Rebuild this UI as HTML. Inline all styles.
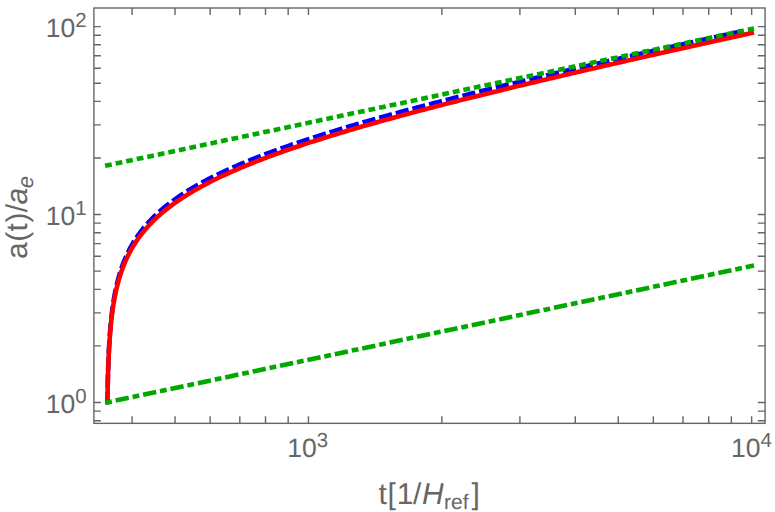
<!DOCTYPE html>
<html><head><meta charset="utf-8"><title>plot</title>
<style>html,body{margin:0;padding:0;background:#fff;}body{width:775px;height:512px;position:relative;overflow:hidden;font-family:"Liberation Sans",sans-serif;}</style></head>
<body>
<svg width="775" height="512" viewBox="0 0 775 512" style="position:absolute;left:0;top:0">
<rect x="0" y="0" width="775" height="512" fill="#fff"/>
<path d="M107.42,402.30 L107.42,402.29 L107.42,402.25 L107.42,402.14 L107.42,401.93 L107.43,401.59 L107.44,401.07 L107.45,400.37 L107.46,399.45 L107.48,398.30 L107.50,396.90 L107.53,395.26 L107.56,393.37 L107.60,391.25 L107.65,388.90 L107.70,386.34 L107.76,383.60 L107.82,380.70 L107.90,377.66 L107.98,374.51 L108.08,371.27 L108.18,367.96 L108.29,364.60 L108.42,361.21 L108.55,357.81 L108.70,354.40 L108.86,351.00 L109.03,347.61 L109.22,344.26 L109.42,340.93 L109.63,337.64 L109.86,334.39 L110.10,331.19 L110.36,328.03 L110.63,324.93 L110.92,321.87 L111.22,318.86 L111.55,315.90 L111.89,313.00 L112.24,310.14 L112.62,307.33 L113.01,304.58 L113.43,301.87 L113.86,299.21 L114.31,296.59 L114.78,294.02 L115.27,291.50 L115.78,289.02 L116.32,286.58 L116.87,284.19 L117.45,281.84 L118.04,279.52 L118.66,277.24 L119.30,275.00 L119.97,272.80 L120.65,270.64 L121.36,268.50 L122.10,266.40 L122.85,264.34 L123.63,262.31 L124.43,260.30 L125.26,258.33 L126.11,256.39 L126.98,254.47 L127.88,252.59 L128.80,250.73 L129.75,248.89 L130.72,247.09 L131.71,245.31 L132.73,243.55 L133.78,241.81 L134.84,240.10 L135.94,238.42 L137.05,236.75 L138.19,235.11 L139.36,233.49 L140.55,231.88 L141.76,230.30 L143.00,228.74 L144.26,227.20 L145.54,225.67 L146.85,224.17 L148.19,222.68 L149.54,221.21 L150.92,219.75 L152.32,218.32 L153.75,216.90 L155.20,215.49 L156.67,214.10 L158.16,212.73 L159.67,211.37 L161.21,210.02 L162.77,208.70 L164.35,207.38 L165.95,206.08 L167.57,204.79 L169.21,203.51 L170.87,202.25 L172.55,201.00 L174.25,199.77 L175.98,198.54 L177.72,197.33 L179.47,196.13 L181.25,194.94 L183.05,193.76 L184.86,192.59 L186.69,191.44 L188.54,190.29 L190.40,189.16 L192.28,188.03 L194.18,186.92 L196.09,185.81 L198.02,184.72 L199.97,183.63 L201.92,182.56 L203.90,181.49 L205.88,180.43 L207.88,179.39 L209.90,178.35 L211.92,177.32 L213.96,176.29 L216.02,175.28 L218.08,174.28 L220.16,173.28 L222.24,172.29 L224.34,171.31 L226.45,170.33 L228.57,169.37 L230.70,168.41 L232.84,167.46 L234.98,166.52 L237.14,165.58 L239.31,164.65 L241.48,163.73 L243.66,162.81 L245.86,161.90 L248.05,161.00 L250.26,160.11 L252.47,159.22 L254.69,158.33 L256.91,157.46 L259.14,156.59 L261.38,155.72 L263.62,154.87 L265.87,154.01 L268.12,153.17 L270.38,152.33 L272.64,151.49 L274.91,150.66 L277.18,149.84 L279.45,149.02 L281.73,148.21 L284.01,147.40 L286.29,146.60 L288.58,145.80 L290.87,145.01 L293.16,144.23 L295.45,143.44 L297.75,142.67 L300.04,141.90 L302.34,141.13 L304.64,140.37 L306.94,139.61 L309.24,138.86 L311.54,138.11 L313.85,137.37 L316.15,136.63 L318.45,135.89 L320.76,135.16 L323.06,134.44 L325.36,133.71 L327.66,133.00 L329.97,132.28 L332.27,131.58 L334.57,130.87 L336.87,130.17 L339.16,129.47 L341.46,128.78 L343.76,128.09 L346.05,127.40 L348.34,126.72 L350.63,126.05 L352.92,125.37 L355.21,124.70 L357.49,124.03 L359.77,123.37 L362.05,122.71 L364.33,122.06 L366.60,121.40 L368.88,120.75 L371.15,120.11 L373.41,119.47 L375.68,118.83 L377.94,118.19 L380.19,117.56 L382.45,116.93 L384.70,116.31 L386.95,115.68 L389.19,115.06 L391.43,114.45 L393.67,113.83 L395.90,113.22 L398.13,112.62 L400.36,112.01 L402.58,111.41 L404.80,110.81 L407.01,110.22 L409.23,109.63 L411.43,109.04 L413.64,108.45 L415.83,107.86 L418.03,107.28 L420.22,106.71 L422.41,106.13 L424.59,105.56 L426.77,104.99 L428.94,104.42 L431.11,103.85 L433.27,103.29 L435.43,102.73 L437.59,102.17 L439.74,101.62 L441.89,101.07 L444.03,100.52 L446.17,99.97 L448.30,99.42 L450.43,98.88 L452.55,98.34 L454.67,97.80 L456.78,97.27 L458.89,96.74 L461.00,96.20 L463.10,95.68 L465.19,95.15 L467.28,94.63 L469.37,94.10 L471.45,93.58 L473.53,93.07 L475.60,92.55 L477.66,92.04 L479.73,91.53 L481.78,91.02 L483.83,90.51 L485.88,90.01 L487.92,89.51 L489.96,89.01 L491.99,88.51 L494.02,88.01 L496.04,87.52 L498.06,87.02 L500.07,86.53 L502.08,86.05 L504.09,85.56 L506.08,85.07 L508.08,84.59 L510.06,84.11 L512.05,83.63 L514.03,83.16 L516.00,82.68 L517.97,82.21 L519.93,81.74 L521.89,81.27 L523.85,80.80 L525.79,80.33 L527.74,79.87 L529.68,79.40 L531.61,78.94 L533.54,78.49 L535.47,78.03 L537.39,77.57 L539.30,77.12 L541.21,76.67 L543.12,76.22 L545.02,75.77 L546.92,75.32 L548.81,74.87 L550.69,74.43 L552.57,73.99 L554.45,73.55 L556.32,73.11 L558.19,72.67 L560.05,72.23 L561.91,71.80 L563.76,71.36 L565.61,70.93 L567.46,70.50 L569.30,70.07 L571.13,69.65 L572.96,69.22 L574.79,68.80 L576.61,68.38 L578.42,67.95 L580.23,67.53 L582.04,67.12 L583.84,66.70 L585.64,66.28 L587.43,65.87 L589.22,65.46 L591.00,65.05 L592.78,64.64 L594.56,64.23 L596.33,63.82 L598.09,63.42 L599.86,63.01 L601.61,62.61 L603.36,62.21 L605.11,61.81 L606.86,61.41 L608.60,61.01 L610.33,60.61 L612.06,60.22 L613.79,59.82 L615.51,59.43 L617.23,59.04 L618.94,58.65 L620.65,58.26 L622.35,57.87 L624.05,57.48 L625.75,57.10 L627.44,56.72 L629.13,56.33 L630.81,55.95 L632.49,55.57 L634.17,55.19 L635.84,54.81 L637.50,54.44 L639.16,54.06 L640.82,53.69 L642.48,53.31 L644.13,52.94 L645.77,52.57 L647.42,52.20 L649.05,51.83 L650.69,51.46 L652.32,51.09 L653.94,50.73 L655.56,50.36 L657.18,50.00 L658.80,49.64 L660.41,49.28 L662.01,48.92 L663.61,48.56 L665.21,48.20 L666.81,47.84 L668.40,47.49 L669.98,47.13 L671.57,46.78 L673.15,46.42 L674.72,46.07 L676.29,45.72 L677.86,45.37 L679.42,45.02 L680.98,44.67 L682.54,44.33 L684.09,43.98 L685.64,43.63 L687.18,43.29 L688.73,42.95 L690.26,42.61 L691.80,42.26 L693.33,41.92 L694.85,41.58 L696.38,41.25 L697.90,40.91 L699.41,40.57 L700.92,40.24 L702.43,39.90 L703.94,39.57 L705.44,39.24 L706.94,38.90 L708.43,38.57 L709.92,38.24 L711.41,37.91 L712.90,37.58 L714.38,37.26 L715.85,36.93 L717.33,36.60 L718.80,36.28 L720.26,35.96 L721.73,35.63 L723.19,35.31 L724.64,34.99 L726.10,34.67 L727.55,34.35 L728.99,34.03 L730.44,33.71 L731.88,33.39 L733.31,33.08 L734.75,32.76 L736.18,32.45 L737.61,32.13 L739.03,31.82 L740.45,31.51 L741.87,31.20 L743.28,30.88" fill="none" stroke="#0000ff" stroke-width="4.6" stroke-dasharray="13.27 3.95" stroke-dashoffset="2.77"/>
<path d="M107.42,402.30 L107.42,402.29 L107.42,402.26 L107.42,402.15 L107.42,401.95 L107.43,401.62 L107.44,401.13 L107.45,400.46 L107.46,399.58 L107.48,398.48 L107.50,397.15 L107.53,395.58 L107.56,393.78 L107.60,391.74 L107.65,389.49 L107.70,387.03 L107.76,384.40 L107.82,381.61 L107.90,378.68 L107.98,375.64 L108.08,372.51 L108.18,369.31 L108.29,366.05 L108.42,362.77 L108.55,359.46 L108.70,356.14 L108.86,352.83 L109.03,349.53 L109.22,346.26 L109.42,343.01 L109.63,339.80 L109.86,336.62 L110.10,333.48 L110.36,330.39 L110.63,327.34 L110.92,324.34 L111.22,321.39 L111.55,318.48 L111.89,315.62 L112.24,312.81 L112.62,310.05 L113.01,307.33 L113.43,304.67 L113.86,302.04 L114.31,299.46 L114.78,296.93 L115.27,294.44 L115.78,291.99 L116.32,289.58 L116.87,287.22 L117.45,284.89 L118.04,282.60 L118.66,280.35 L119.30,278.13 L119.97,275.95 L120.65,273.81 L121.36,271.69 L122.10,269.62 L122.85,267.57 L123.63,265.55 L124.43,263.57 L125.26,261.61 L126.11,259.69 L126.98,257.79 L127.88,255.92 L128.80,254.07 L129.75,252.25 L130.72,250.46 L131.71,248.69 L132.73,246.95 L133.78,245.22 L134.84,243.53 L135.94,241.85 L137.05,240.20 L138.19,238.56 L139.36,236.95 L140.55,235.36 L141.76,233.79 L143.00,232.23 L144.26,230.70 L145.54,229.18 L146.85,227.69 L148.19,226.21 L149.54,224.74 L150.92,223.30 L152.32,221.87 L153.75,220.45 L155.20,219.06 L156.67,217.67 L158.16,216.31 L159.67,214.96 L161.21,213.62 L162.77,212.29 L164.35,210.98 L165.95,209.69 L167.57,208.41 L169.21,207.14 L170.87,205.88 L172.55,204.64 L174.25,203.40 L175.98,202.18 L177.72,200.98 L179.47,199.78 L181.25,198.60 L183.05,197.42 L184.86,196.26 L186.69,195.11 L188.54,193.97 L190.40,192.84 L192.28,191.72 L194.18,190.60 L196.09,189.50 L198.02,188.41 L199.97,187.33 L201.92,186.26 L203.90,185.20 L205.88,184.14 L207.88,183.10 L209.90,182.06 L211.92,181.04 L213.96,180.02 L216.02,179.01 L218.08,178.00 L220.16,177.01 L222.24,176.02 L224.34,175.05 L226.45,174.08 L228.57,173.11 L230.70,172.16 L232.84,171.21 L234.98,170.27 L237.14,169.33 L239.31,168.41 L241.48,167.49 L243.66,166.57 L245.86,165.67 L248.05,164.77 L250.26,163.87 L252.47,162.99 L254.69,162.11 L256.91,161.23 L259.14,160.37 L261.38,159.50 L263.62,158.65 L265.87,157.80 L268.12,156.95 L270.38,156.11 L272.64,155.28 L274.91,154.46 L277.18,153.63 L279.45,152.82 L281.73,152.01 L284.01,151.20 L286.29,150.40 L288.58,149.61 L290.87,148.82 L293.16,148.03 L295.45,147.25 L297.75,146.48 L300.04,145.71 L302.34,144.94 L304.64,144.18 L306.94,143.43 L309.24,142.67 L311.54,141.93 L313.85,141.19 L316.15,140.45 L318.45,139.71 L320.76,138.99 L323.06,138.26 L325.36,137.54 L327.66,136.83 L329.97,136.11 L332.27,135.41 L334.57,134.70 L336.87,134.00 L339.16,133.31 L341.46,132.61 L343.76,131.93 L346.05,131.24 L348.34,130.56 L350.63,129.89 L352.92,129.21 L355.21,128.54 L357.49,127.88 L359.77,127.22 L362.05,126.56 L364.33,125.90 L366.60,125.25 L368.88,124.60 L371.15,123.96 L373.41,123.32 L375.68,122.68 L377.94,122.04 L380.19,121.41 L382.45,120.79 L384.70,120.16 L386.95,119.54 L389.19,118.92 L391.43,118.31 L393.67,117.69 L395.90,117.08 L398.13,116.48 L400.36,115.87 L402.58,115.27 L404.80,114.68 L407.01,114.08 L409.23,113.49 L411.43,112.90 L413.64,112.32 L415.83,111.73 L418.03,111.15 L420.22,110.57 L422.41,110.00 L424.59,109.43 L426.77,108.86 L428.94,108.29 L431.11,107.73 L433.27,107.16 L435.43,106.60 L437.59,106.05 L439.74,105.49 L441.89,104.94 L444.03,104.39 L446.17,103.85 L448.30,103.30 L450.43,102.76 L452.55,102.22 L454.67,101.68 L456.78,101.15 L458.89,100.62 L461.00,100.09 L463.10,99.56 L465.19,99.03 L467.28,98.51 L469.37,97.99 L471.45,97.47 L473.53,96.95 L475.60,96.44 L477.66,95.93 L479.73,95.42 L481.78,94.91 L483.83,94.40 L485.88,93.90 L487.92,93.40 L489.96,92.90 L491.99,92.40 L494.02,91.90 L496.04,91.41 L498.06,90.92 L500.07,90.43 L502.08,89.94 L504.09,89.45 L506.08,88.97 L508.08,88.49 L510.06,88.01 L512.05,87.53 L514.03,87.05 L516.00,86.58 L517.97,86.10 L519.93,85.63 L521.89,85.16 L523.85,84.70 L525.79,84.23 L527.74,83.77 L529.68,83.30 L531.61,82.84 L533.54,82.39 L535.47,81.93 L537.39,81.47 L539.30,81.02 L541.21,80.57 L543.12,80.12 L545.02,79.67 L546.92,79.22 L548.81,78.78 L550.69,78.33 L552.57,77.89 L554.45,77.45 L556.32,77.01 L558.19,76.57 L560.05,76.14 L561.91,75.70 L563.76,75.27 L565.61,74.84 L567.46,74.41 L569.30,73.98 L571.13,73.56 L572.96,73.13 L574.79,72.71 L576.61,72.29 L578.42,71.86 L580.23,71.44 L582.04,71.03 L583.84,70.61 L585.64,70.20 L587.43,69.78 L589.22,69.37 L591.00,68.96 L592.78,68.55 L594.56,68.14 L596.33,67.73 L598.09,67.33 L599.86,66.92 L601.61,66.52 L603.36,66.12 L605.11,65.72 L606.86,65.32 L608.60,64.92 L610.33,64.53 L612.06,64.13 L613.79,63.74 L615.51,63.35 L617.23,62.96 L618.94,62.57 L620.65,62.18 L622.35,61.79 L624.05,61.40 L625.75,61.02 L627.44,60.63 L629.13,60.25 L630.81,59.87 L632.49,59.49 L634.17,59.11 L635.84,58.73 L637.50,58.36 L639.16,57.98 L640.82,57.61 L642.48,57.23 L644.13,56.86 L645.77,56.49 L647.42,56.12 L649.05,55.75 L650.69,55.38 L652.32,55.02 L653.94,54.65 L655.56,54.29 L657.18,53.92 L658.80,53.56 L660.41,53.20 L662.01,52.84 L663.61,52.48 L665.21,52.12 L666.81,51.77 L668.40,51.41 L669.98,51.06 L671.57,50.70 L673.15,50.35 L674.72,50.00 L676.29,49.65 L677.86,49.30 L679.42,48.95 L680.98,48.60 L682.54,48.25 L684.09,47.91 L685.64,47.56 L687.18,47.22 L688.73,46.88 L690.26,46.53 L691.80,46.19 L693.33,45.85 L694.85,45.51 L696.38,45.17 L697.90,44.84 L699.41,44.50 L700.92,44.17 L702.43,43.83 L703.94,43.50 L705.44,43.17 L706.94,42.83 L708.43,42.50 L709.92,42.17 L711.41,41.84 L712.90,41.52 L714.38,41.19 L715.85,40.86 L717.33,40.54 L718.80,40.21 L720.26,39.89 L721.73,39.56 L723.19,39.24 L724.64,38.92 L726.10,38.60 L727.55,38.28 L728.99,37.96 L730.44,37.64 L731.88,37.33 L733.31,37.01 L734.75,36.69 L736.18,36.38 L737.61,36.07 L739.03,35.75 L740.45,35.44 L741.87,35.13 L743.28,34.82 L744.69,34.51 L746.10,34.20 L747.51,33.89 L748.91,33.58 L750.30,33.28 L751.70,32.97" fill="none" stroke="#ff0000" stroke-width="4.6" stroke-linecap="square" stroke-linejoin="round"/>
<path d="M105.10,165.80 L754.00,28.51" fill="none" stroke="#00a800" stroke-width="4.6" stroke-dasharray="6.8 3.97"/>
<path d="M105.20,402.79 L754.00,265.49" fill="none" stroke="#00a800" stroke-width="4.6" stroke-dasharray="6.8 3.9 13.4 3.9"/>
<rect x="93.90" y="8.00" width="671.20" height="415.35" fill="none" stroke="#666666" stroke-width="1.4"/>
<path d="M132.08,423.35 v-7.00 M132.08,8.00 v7.00 M175.03,423.35 v-7.00 M175.03,8.00 v7.00 M210.13,423.35 v-7.00 M210.13,8.00 v7.00 M239.80,423.35 v-7.00 M239.80,8.00 v7.00 M265.50,423.35 v-7.00 M265.50,8.00 v7.00 M288.17,423.35 v-7.00 M288.17,8.00 v7.00 M308.45,423.35 v-7.00 M308.45,8.00 v7.00 M441.87,423.35 v-7.00 M441.87,8.00 v7.00 M519.91,423.35 v-7.00 M519.91,8.00 v7.00 M575.28,423.35 v-7.00 M575.28,8.00 v7.00 M618.23,423.35 v-7.00 M618.23,8.00 v7.00 M653.33,423.35 v-7.00 M653.33,8.00 v7.00 M683.00,423.35 v-7.00 M683.00,8.00 v7.00 M708.70,423.35 v-7.00 M708.70,8.00 v7.00 M731.37,423.35 v-7.00 M731.37,8.00 v7.00 M751.65,423.35 v-7.00 M751.65,8.00 v7.00 M93.90,420.71 h7.00 M765.10,420.71 h-7.30 M93.90,411.10 h7.00 M765.10,411.10 h-7.30 M93.90,402.50 h7.00 M765.10,402.50 h-7.30 M93.90,345.92 h7.00 M765.10,345.92 h-7.30 M93.90,312.83 h7.00 M765.10,312.83 h-7.30 M93.90,289.34 h7.00 M765.10,289.34 h-7.30 M93.90,271.13 h7.00 M765.10,271.13 h-7.30 M93.90,256.25 h7.00 M765.10,256.25 h-7.30 M93.90,243.66 h7.00 M765.10,243.66 h-7.30 M93.90,232.76 h7.00 M765.10,232.76 h-7.30 M93.90,223.15 h7.00 M765.10,223.15 h-7.30 M93.90,214.55 h7.00 M765.10,214.55 h-7.30 M93.90,157.97 h7.00 M765.10,157.97 h-7.30 M93.90,124.88 h7.00 M765.10,124.88 h-7.30 M93.90,101.39 h7.00 M765.10,101.39 h-7.30 M93.90,83.18 h7.00 M765.10,83.18 h-7.30 M93.90,68.30 h7.00 M765.10,68.30 h-7.30 M93.90,55.71 h7.00 M765.10,55.71 h-7.30 M93.90,44.81 h7.00 M765.10,44.81 h-7.30 M93.90,35.20 h7.00 M765.10,35.20 h-7.30 M93.90,26.60 h7.00 M765.10,26.60 h-7.30" fill="none" stroke="#666666" stroke-width="1.4"/>
<text x="45.7" y="412.8" font-family="Liberation Sans, sans-serif" text-rendering="geometricPrecision" fill="#666666" font-size="26.5">10<tspan font-size="20.4" dy="-10.2">0</tspan></text>
<text x="45.7" y="225.1" font-family="Liberation Sans, sans-serif" text-rendering="geometricPrecision" fill="#666666" font-size="26.5">10<tspan font-size="20.4" dy="-10.2">1</tspan></text>
<text x="45.7" y="37.4" font-family="Liberation Sans, sans-serif" text-rendering="geometricPrecision" fill="#666666" font-size="26.5">10<tspan font-size="20.4" dy="-10.2">2</tspan></text>
<text x="287.3" y="457.2" font-family="Liberation Sans, sans-serif" text-rendering="geometricPrecision" fill="#666666" font-size="26.5">10<tspan font-size="20.4" dy="-10.2">3</tspan></text>
<text x="730.9" y="457.2" font-family="Liberation Sans, sans-serif" text-rendering="geometricPrecision" fill="#666666" font-size="26.5">10<tspan font-size="20.4" dy="-10.2">4</tspan></text>
<text y="503.8" font-family="Liberation Sans, sans-serif" text-rendering="geometricPrecision" fill="#666666" font-size="30"><tspan x="378.6">t</tspan><tspan x="387.6">[</tspan><tspan x="396.7">1</tspan><tspan x="413.1">/</tspan><tspan x="422.1" font-style="italic">H</tspan><tspan x="444.0" font-size="21" dy="5">ref</tspan><tspan x="471.6" dy="-5">]</tspan></text>
<text transform="translate(27.4,258.9) rotate(-90)" y="0" font-family="Liberation Sans, sans-serif" text-rendering="geometricPrecision" fill="#666666" font-size="30"><tspan x="0">a</tspan><tspan x="17.1">(</tspan><tspan x="27.3">t</tspan><tspan x="36.4">)</tspan><tspan x="46.7">/</tspan><tspan x="54.3" font-style="italic">a</tspan><tspan x="70.6" font-style="italic" font-size="22" dy="5.5">e</tspan></text>
</svg>
</body></html>
